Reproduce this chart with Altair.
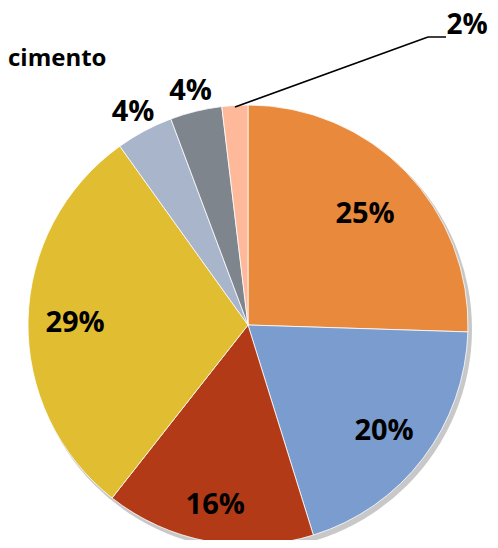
import altair as alt
import pandas as pd

labels = ["25%", "20%", "16%", "29%", "4%", "4%", "2%"]
values = [25.5, 19.7, 15.4, 29.5, 4.2, 3.8, 1.9]
colors = ["#E8893C", "#7A9CCF", "#B33A17", "#E1BD31", "#A9B5CB", "#7E858D", "#FDB99A"]
label_radius = [163, 171, 181, 173, 244, 243, 0]
title_text = "cimento"

df = pd.DataFrame({
    "idx": list(range(len(values))),
    "label": labels,
    "value": values,
    "color": colors,
    "lr": label_radius,
})

CX, CY, R = 240, 317, 220

shadow = alt.Chart(pd.DataFrame({"v": [1]})).mark_arc(
    radius=R + 1, color="#9a9a9a", opacity=0.55
).encode(theta=alt.Theta("v:Q", scale=alt.Scale(domain=[0, 1])),
         x=alt.value(CX + 3), y=alt.value(CY + 4))

pie = alt.Chart(df).mark_arc(radius=R, stroke="white", strokeWidth=0.8).encode(
    theta=alt.Theta("value:Q", stack=True),
    order=alt.Order("idx:Q"),
    color=alt.Color("color:N", scale=None),
    x=alt.value(CX), y=alt.value(CY),
)

txt = alt.Chart(df).transform_joinaggregate(
    total="sum(value)"
).transform_window(
    cum="sum(value)", sort=[alt.SortField("idx")]
).transform_calculate(
    frac="(datum.cum - datum.value / 2) / datum.total",
    inner="datum.lr > 0 ? datum.label : ''",
).mark_text(
    font="Open Sans", fontWeight="bold", fontSize=29, color="black"
).encode(
    theta=alt.Theta("frac:Q", stack=False, scale=alt.Scale(domain=[0, 1])),
    text="inner:N",
    radius=alt.Radius("lr:Q", scale=None),
    x=alt.value(CX), y=alt.value(CY + 2),
)

small = df[df["lr"] == 0]
callout = alt.Chart(small).mark_text(
    font="Open Sans", fontWeight="bold", fontSize=28, color="black"
).encode(text="label:N", x=alt.value(459), y=alt.value(18))

lead1 = alt.Chart(small).mark_rule(color="black", strokeWidth=1.5).encode(
    x=alt.value(227), y=alt.value(99), x2=alt.value(420), y2=alt.value(29))
lead2 = alt.Chart(small).mark_rule(color="black", strokeWidth=1.5).encode(
    x=alt.value(420), y=alt.value(29), x2=alt.value(438), y2=alt.value(29))

title = alt.Chart(pd.DataFrame({"t": [title_text]})).mark_text(
    font="Open Sans", fontWeight="bold", fontSize=24, color="black", align="left"
).encode(text="t:N", x=alt.value(0), y=alt.value(51))

chart = alt.layer(shadow, pie, txt, callout, lead1, lead2, title).resolve_scale(
    theta="independent"
).properties(
    width=482, height=532, autosize=alt.AutoSizeParams(type="none"), padding=0
).configure_view(stroke=None)

chart.save("out.html", embed_options={"renderer": "svg", "actions": False})
